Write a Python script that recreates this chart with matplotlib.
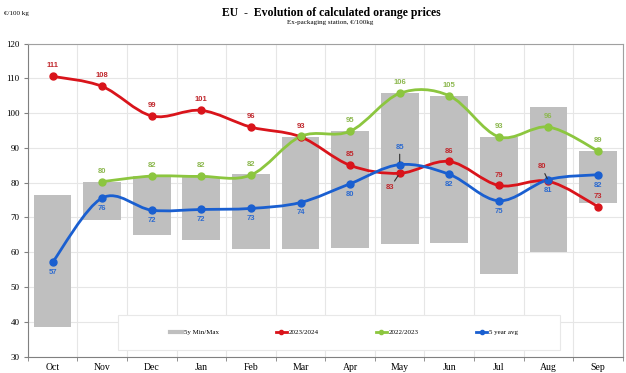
import numpy as np
import matplotlib
matplotlib.use("Agg")
import matplotlib.pyplot as plt
from matplotlib.path import Path
from matplotlib.patches import PathPatch, Rectangle

# dati
mesi = ["Oct", "Nov", "Dec", "Jan", "Feb", "Mar", "Apr", "May", "Jun", "Jul", "Aug", "Sep"]
min_5y = [38.6, 69.2, 64.9, 63.6, 61.0, 61.0, 61.3, 62.3, 62.7, 53.6, 60.0, 74.3]
max_5y = [76.4, 80.3, 81.9, 81.6, 82.4, 93.2, 94.8, 105.7, 105.0, 93.2, 101.7, 89.1]
prezzi_2324 = [110.6, 107.7, 99.2, 100.8, 96.0, 93.2, 85.0, 82.7, 86.1, 79.2, 80.4, 73.1]
prezzi_2223 = [None, 80.3, 81.9, 81.8, 82.2, 93.3, 94.8, 105.7, 105.0, 93.2, 96.0, 89.1]
media_5y = [57.1, 75.6, 72.1, 72.3, 72.6, 74.3, 79.7, 85.2, 82.4, 74.8, 80.9, 82.3]

# posizione etichette (offset in punti): None = nessuna etichetta
off_2324 = [(0, 5), (0, 5), (0, 5), (0, 5), (0, 5), (0, 5), (0, 5), (-7, -8), (0, 5), (0, 5), (-5, 8), (0, 5)]
off_2223 = [None, (0, 5), (0, 5), (0, 5), (0, 5), None, (0, 5), (0, 5), (0, 5), (0, 5), (0, 5), (0, 5)]
off_media = [(0, -5), (0, -5), (0, -5), (0, -5), (0, -5), (0, -5), (0, -5), (0, 10), (0, -5), (0, -5), (0, -5), (0, -5)]

ROSSO = "#D9141B"
VERDE = "#8CC63F"
BLU = "#1A5FD0"
serif = "Liberation Serif"


def curva_liscia(ax, xs, ys, colore):
    """Curva tipo Excel (Catmull-Rom -> Bezier) disegnata con PathPatch."""
    p = np.column_stack([xs, ys])
    pp = np.vstack([p[0], p, p[-1]])
    verts = [tuple(p[0])]
    codes = [Path.MOVETO]
    for i in range(len(p) - 1):
        c1 = pp[i + 1] + (pp[i + 2] - pp[i]) / 6.0
        c2 = pp[i + 2] - (pp[i + 3] - pp[i + 1]) / 6.0
        verts += [tuple(c1), tuple(c2), tuple(pp[i + 2])]
        codes += [Path.CURVE4] * 3
    patch = PathPatch(Path(verts, codes), facecolor="none", edgecolor=colore,
                      lw=2.0, zorder=4, capstyle="round")
    ax.add_patch(patch)


def serie(ax, valori, colore, col_etichetta, offsets, label):
    xs = [i for i, v in enumerate(valori) if v is not None]
    ys = [v for v in valori if v is not None]
    curva_liscia(ax, xs, ys, colore)
    ax.plot(xs, ys, linestyle="none", marker="o", ms=5, color=colore, zorder=5)
    ax.plot([], [], color=colore, lw=2, marker="o", ms=3, label=label)
    for x, y in zip(xs, ys):
        off = offsets[x]
        if off is None:
            continue
        dx, dy = off
        leader = abs(dy) > 6
        ax.annotate(f"{round(y):d}", (x, y), xytext=(dx, dy), textcoords="offset points",
                    ha="center", va="bottom" if dy > 0 else "top", fontsize=5.5,
                    fontweight="bold", color=col_etichetta, family="Liberation Sans", zorder=6,
                    arrowprops=dict(arrowstyle="-", color="#303030", lw=0.8,
                                    shrinkA=0.5, shrinkB=2) if leader else None)


fig = plt.figure(figsize=(6.26, 3.73), dpi=100)
ax = fig.add_axes([0.0443, 0.0442, 0.9507, 0.8388])

x = np.arange(len(mesi))
altezze = [a - b for a, b in zip(max_5y, min_5y)]
ax.bar(x, altezze, bottom=min_5y, width=0.76, color="#BFBFBF", zorder=2)
ax.plot([], [], color="#BFBFBF", lw=3, label="5y Min/Max")

serie(ax, prezzi_2324, ROSSO, "#C0282D", off_2324, "2023/2024")
serie(ax, prezzi_2223, VERDE, "#8DB850", off_2223, "2022/2023")
serie(ax, media_5y, BLU, "#2D6BD0", off_media, "5 year avg")

ax.set_xlim(-0.5, 11.5)
ax.set_ylim(30, 120)
ax.set_yticks(range(30, 121, 10))
ax.set_xticks(x)
ax.set_xticklabels(mesi)
ax.set_xticks(np.arange(-0.5, 12, 1), minor=True)
ax.tick_params(axis="x", which="major", length=0, pad=5)
ax.tick_params(axis="x", which="minor", length=3, color="#808080")
ax.tick_params(axis="y", length=3, color="#808080", pad=3)
for t in ax.get_xticklabels():
    t.set_family(serif)
    t.set_fontsize(7)
for t in ax.get_yticklabels():
    t.set_family(serif)
    t.set_fontsize(6.5)
ax.grid(True, axis="y", color="#E6E6E6", lw=0.8, zorder=0)
ax.grid(True, axis="x", which="minor", color="#E6E6E6", lw=0.8, zorder=0)
for s in ax.spines.values():
    s.set_color("#A0A0A0")
ax.spines["left"].set_color("#808080")
ax.spines["bottom"].set_color("#808080")

# riquadro della legenda
ax.add_patch(Rectangle((0.152, 0.021), 0.742, 0.112, transform=ax.transAxes,
                       facecolor="white", edgecolor="#E8E8E8", lw=0.8, zorder=7))
leg = ax.legend(loc="center", bbox_to_anchor=(0.532, 0.077), ncol=4, frameon=False,
                prop={"family": serif, "size": 5}, handlelength=1.6, handletextpad=0.3,
                columnspacing=8.2)
leg.set_zorder(8)

fig.text(0.530, 0.966, "EU  -  Evolution of calculated orange prices", ha="center",
         va="center", family=serif, fontweight="bold", fontsize=8.5)
fig.text(0.528, 0.940, "Ex-packaging station, €/100kg", ha="center", va="center",
         family=serif, fontsize=5)
fig.text(0.006, 0.965, "€/100 kg", ha="left", va="center", family=serif, fontsize=5)

fig.savefig("out.png", dpi=100)
